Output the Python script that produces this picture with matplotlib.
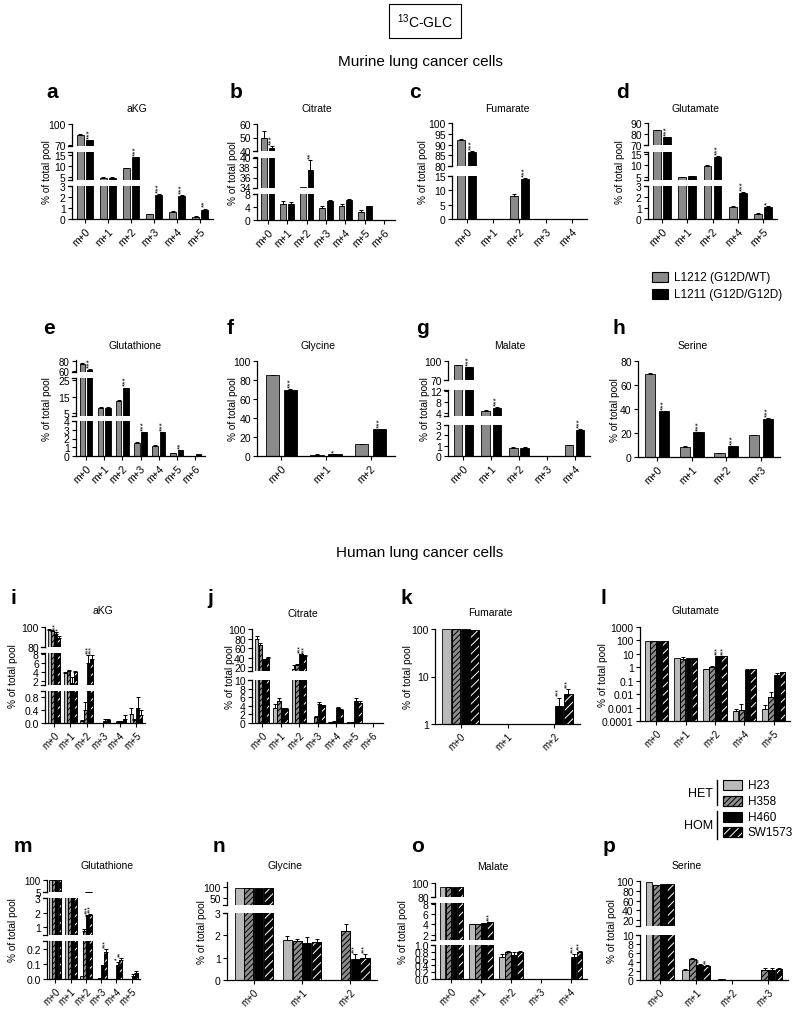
import numpy as np
import matplotlib
matplotlib.use("Agg")
import matplotlib.pyplot as plt
from matplotlib.patches import Rectangle

plt.rcParams['font.family'] = ['Liberation Sans', 'DejaVu Sans']
plt.rcParams['mathtext.fontset'] = 'custom'
plt.rcParams['mathtext.rm'] = 'Liberation Sans'
plt.rcParams['hatch.linewidth'] = 0.7
plt.rcParams['axes.linewidth'] = 0.9

# ---------------- murine data: [L1212 (G12D/WT), L1211 (G12D/G12D)] ----------------
murine_names = ['L1212 (G12D/WT)', 'L1211 (G12D/G12D)']

a_cats = ['m+0', 'm+1', 'm+2', 'm+3', 'm+4', 'm+5']
a_vals = [[85, 4.6, 9.0, 0.45, 0.65, 0.2],
          [77, 4.7, 14.0, 2.2, 2.1, 0.85]]
a_err = [[1, 0.2, 0.3, 0.05, 0.12, 0.03],
         [1, 0.2, 0.3, 0.1, 0.08, 0.1]]
a_star = [['', '', '', '', '', ''],
          ['***', '', '***', '***', '***', '**']]

b_cats = ['m+0', 'm+1', 'm+2', 'm+3', 'm+4', 'm+5', 'm+6']
b_vals = [[50, 4.8, 34.1, 3.6, 4.2, 2.6, 0.0],
          [42, 4.9, 37.5, 5.9, 6.2, 4.2, 0.15]]
b_err = [[5, 0.9, 0, 0.6, 0.7, 0.6, 0],
         [2, 0.6, 2, 0.2, 0.2, 0.2, 0]]
b_star = [['', '', '', '', '', '', ''],
          ['***', '', '**', '', '', '', '']]

c_cats = ['m+0', 'm+1', 'm+2', 'm+3', 'm+4']
c_vals = [[92, 0, 8.0, 0, 0],
          [86.5, 0, 13.8, 0, 0]]
c_err = [[0.6, 0, 0.8, 0, 0],
         [0.6, 0, 0.6, 0, 0]]
c_star = [['', '', '', '', ''],
          ['***', '', '***', '', '']]

d_cats = ['m+0', 'm+1', 'm+2', 'm+4', 'm+5']
d_vals = [[83.5, 4.9, 9.8, 1.1, 0.5],
          [77, 5.2, 13.8, 2.35, 1.1]]
d_err = [[0.5, 0.1, 0.3, 0.08, 0.05],
         [0.5, 0.1, 0.3, 0.1, 0.05]]
d_star = [['', '', '', '', ''],
          ['***', '', '***', '***', '*']]

e_cats = ['m+0', 'm+1', 'm+2', 'm+3', 'm+4', 'm+5', 'm+6']
e_vals = [[75, 8.5, 12.5, 1.5, 1.2, 0.35, 0.05],
          [63, 8.5, 20.0, 2.7, 2.7, 0.7, 0.2]]
e_err = [[1, 0.2, 0.3, 0.05, 0.05, 0.03, 0],
         [1, 0.2, 0.3, 0.05, 0.05, 0.03, 0]]
e_star = [['', '', '', '', '', '', ''],
          ['***', '', '***', '***', '***', '**', '']]

f_cats = ['m+0', 'm+1', 'm+2']
f_vals = [[85, 1.5, 12.5],
          [70, 2.0, 28.0]]
f_err = [[0.5, 0.2, 0.5],
         [0.5, 0.2, 0.5]]
f_star = [['', '', ''],
          ['***', '*', '***']]

g_cats = ['m+0', 'm+1', 'm+2', 'm+3', 'm+4']
g_vals = [[93, 4.8, 0.8, 0, 1.05],
          [90, 6.0, 0.8, 0, 2.55]]
g_err = [[0.5, 0.2, 0.03, 0, 0.05],
         [0.5, 0.2, 0.03, 0, 0.1]]
g_star = [['', '', '', '', ''],
          ['***', '***', '', '', '***']]

h_cats = ['m+0', 'm+1', 'm+2', 'm+3']
h_vals = [[69, 8.5, 3.0, 18],
          [38, 20.5, 9.0, 32]]
h_err = [[0.6, 0.5, 0.3, 0.5],
         [0.6, 0.5, 0.3, 0.5]]
h_star = [['', '', '', ''],
          ['***', '***', '***', '***']]

# ---------------- human data: [H23, H358, H460, SW1573] ----------------
human_names = ['H23', 'H358', 'H460', 'SW1573']

i_cats = ['m+0', 'm+1', 'm+2', 'm+3', 'm+4', 'm+5']
i_vals = [[97, 3.6, 0.05, 0.0, 0.0, 0.28],
          [96, 4.1, 0.42, 0.0, 0.03, 0.08],
          [93, 1.5, 6.0, 0.07, 0.04, 0.47],
          [89, 4.0, 6.8, 0.1, 0.13, 0.24]]
i_err = [[1, 0.3, 0.03, 0, 0, 0.18],
         [1, 0.2, 0.25, 0, 0.02, 0.03],
         [2, 1.4, 1.8, 0.04, 0.03, 0.35],
         [2, 0.2, 1.0, 0.02, 0.12, 0.18]]
i_star = [['', '', '', '', '', ''],
          ['', '', '', '', '', ''],
          ['***', '**', '***', '', '', ''],
          ['***', '', '***', '', '', '']]

j_cats = ['m+0', 'm+1', 'm+2', 'm+3', 'm+4', 'm+5', 'm+6']
j_vals = [[78, 3.4, 16, 0.1, 0.25, 0.2, 0.05],
          [67, 5.2, 25, 1.3, 0.3, 0.2, 0.05],
          [35, 3.4, 47, 4.5, 3.4, 5.1, 0.1],
          [39, 3.2, 44, 4.1, 3.1, 4.6, 0.1]]
j_err = [[8, 1.1, 8, 0, 0.05, 0.05, 0],
         [3, 0.6, 2, 0.4, 0.05, 0.05, 0],
         [1, 0.2, 1, 0.3, 0.3, 0.6, 0],
         [3, 0.3, 1, 0.2, 0.2, 0.6, 0]]
j_star = [['', '', '', '', '', '', ''],
          ['', '', '', '', '', '', ''],
          ['', '', '***', '', '', '', ''],
          ['', '', '***', '', '', '', '']]

k_cats = ['m+0', 'm+1', 'm+2']
k_vals = [[99, 0, 0],
          [99, 0, 0],
          [98, 0, 2.4],
          [97, 0, 4.3]]
k_err = [[0, 0, 0],
         [0, 0, 0],
         [0, 0, 1.2],
         [0, 0, 1.1]]
k_star = [['', '', ''],
          ['', '', ''],
          ['', '', '***'],
          ['', '', '***']]

l_cats = ['m+0', 'm+1', 'm+2', 'm+4', 'm+5']
l_vals = [[95, 5.0, 0.75, 0.0006, 0.0008],
          [95, 4.0, 1.1, 0.0007, 0.006],
          [90, 5.0, 6.5, 0.6, 0.28],
          [90, 5.0, 7.0, 0.75, 0.42]]
l_err = [[0, 0, 0.05, 0.0002, 0.0008],
         [0, 2.0, 0.05, 0.001, 0.008],
         [0, 0, 0.3, 0.15, 0.1],
         [0, 0, 0.3, 0.05, 0.05]]
l_star = [['', '', '', '', ''],
          ['', '', '', '', ''],
          ['', '', '***', '', ''],
          ['', '', '***', '', '']]

m_cats = ['m+0', 'm+1', 'm+2', 'm+3', 'm+4', 'm+5']
m_vals = [[97, 5.3, 0.02, 0.003, 0.0, 0.0],
          [97, 5.3, 0.75, 0.005, 0.0, 0.0],
          [97, 5.3, 1.8, 0.09, 0.09, 0.022],
          [97, 5.3, 1.85, 0.18, 0.125, 0.04]]
m_err = [[0, 0, 0, 0, 0, 0],
         [0, 0, 0.1, 0, 0, 0],
         [0, 0, 0.05, 0.005, 0.025, 0.01],
         [0, 0, 0.05, 0.02, 0.01, 0.01]]
m_star = [['', '', '', '', '', ''],
          ['', '', '', '', '', ''],
          ['', '', '***', '', '*', ''],
          ['', '', '***', '***', '**', '']]

n_cats = ['m+0', 'm+1', 'm+2']
n_vals = [[98, 1.8, 0.01],
          [96, 1.75, 2.2],
          [97, 1.65, 0.92],
          [97, 1.68, 1.0]]
n_err = [[0, 0.15, 0],
         [0, 0.1, 0.3],
         [0, 0.28, 0.25],
         [0, 0.15, 0.18]]
n_star = [['', '', ''],
          ['', '', ''],
          ['', '', '***'],
          ['', '', '***']]

o_cats = ['m+0', 'm+1', 'm+2', 'm+3', 'm+4']
o_vals = [[95, 4.1, 0.65, 0, 0.01],
          [95, 4.1, 0.8, 0, 0],
          [94, 4.2, 0.72, 0, 0.65],
          [94, 4.4, 0.79, 0, 0.78]]
o_err = [[0, 0.05, 0.1, 0, 0],
         [0, 0.05, 0.03, 0, 0],
         [0, 0.05, 0.08, 0, 0.08],
         [0, 0.1, 0.02, 0, 0.05]]
o_star = [['', '', '', '', ''],
          ['', '', '', '', ''],
          ['', '', '', '', '***'],
          ['', '***', '', '', '***']]

p_cats = ['m+0', 'm+1', 'm+2', 'm+3']
p_vals = [[98, 2.3, 0.15, 0.0],
          [92, 4.7, 0.05, 2.2],
          [94, 3.4, 0.0, 2.3],
          [94, 3.1, 0.0, 2.4]]
p_err = [[0, 0.2, 0.05, 0],
         [0, 0.3, 0, 0.4],
         [0, 0.2, 0, 0.4],
         [0, 0.2, 0, 0.2]]
p_star = [['', '', '', ''],
          ['', '', '', ''],
          ['', '**', '', ''],
          ['', '**', '', '']]

# ---------------- styles ----------------
MUR = [dict(fc='#8a8a8a'), dict(fc='black')]
HUM = [dict(fc='#b9b9b9'),
       dict(fc='#8c8c8c', hatch='//////', hc='black'),
       dict(fc='black'),
       dict(fc='black', hatch='////', hc='white')]

W, H = 800, 1012
fig = plt.figure(figsize=(8, 10.12), dpi=100)
TICK_FS = 7.5


def fx(x):
    return x / W


def fy(y):
    return 1 - y / H


def draw_bars(ax, xs, v, e, st, width):
    ax.bar(xs, v, width, color=st['fc'], edgecolor='black', linewidth=0.6, zorder=2)
    if 'hatch' in st:
        ax.bar(xs, v, width, color='none', edgecolor=st['hc'], hatch=st['hatch'],
               linewidth=0, zorder=3)
        ax.bar(xs, v, width, color='none', edgecolor='black', linewidth=0.6, zorder=4)
    ok = (e > 0) & np.isfinite(v)
    if ok.any():
        ax.errorbar(xs[ok], v[ok], yerr=[np.zeros(ok.sum()), e[ok]], fmt='none',
                    ecolor='black', elinewidth=0.7, capsize=1.6, capthick=0.7, zorder=5)


def panel(letter, title, box, cats, vals, errs, stars, styles, segs,
          lab, tit, ydx, log=False):
    left, top, right, bottom = box
    ncat = len(cats)
    nser = len(vals)
    if nser == 2:
        width, offs = 0.3, [-0.2, 0.2]
        xfs, sfs = TICK_FS, 6
    else:
        width, offs = 0.19, [-0.3, -0.1, 0.1, 0.3]
        xfs, sfs = 7, 5

    nseg = len(segs)
    used = sum(s[3] for s in segs)
    gap = ((bottom - top) - used) / (nseg - 1) if nseg > 1 else 0
    axes = []
    ybot = bottom
    for k, (lo, hi, ticks, px) in enumerate(segs):
        ax = fig.add_axes([fx(left), fy(ybot), (right - left) / W, px / H])
        ybot -= px + gap
        if log:
            ax.set_yscale('log')
        for s in range(nser):
            v = np.asarray(vals[s], float)
            e = np.asarray(errs[s], float)
            if log:
                v = np.where(v > 0, v, np.nan)
            draw_bars(ax, np.arange(ncat) + offs[s], v, e, styles[s], width)
        ax.set_xlim(-0.55, ncat - 0.45)
        ax.set_ylim(lo, hi)
        if log:
            labels = ['%g' % t for t in ticks]
            ax.minorticks_off()
        elif all(float(t).is_integer() for t in ticks):
            labels = ['%d' % t for t in ticks]
        else:
            labels = ['%.1f' % t for t in ticks]
        ax.set_yticks(ticks, labels)
        ax.tick_params(axis='y', labelsize=TICK_FS if px > 12 else 7, length=3,
                       width=0.8, pad=1.5)
        ax.spines['top'].set_visible(False)
        ax.spines['right'].set_visible(False)
        if k == 0:
            ax.set_xticks(range(ncat), cats, rotation=45, ha='right',
                          rotation_mode='anchor')
            ax.tick_params(axis='x', labelsize=xfs, length=3, width=0.8, pad=2)
        else:
            ax.spines['bottom'].set_visible(False)
            ax.set_xticks([])
        cap = 4.0 / (right - left)
        if nseg > 1:
            if k > 0:
                ax.plot([-cap, 0], [0, 0], transform=ax.transAxes, color='black',
                        lw=0.9, clip_on=False)
            if k < nseg - 1:
                ax.plot([-cap, 0], [1, 1], transform=ax.transAxes, color='black',
                        lw=0.9, clip_on=False)
        axes.append(ax)

    # significance stars
    for s in range(nser):
        for c in range(ncat):
            txt = stars[s][c]
            if not txt:
                continue
            topv = vals[s][c] + errs[s][c]
            target, yv = axes[-1], segs[-1][1]
            for ax, (lo, hi, ticks, px) in zip(axes, segs):
                if topv <= hi:
                    target, yv = ax, max(topv, lo)
                    break
            target.annotate(txt, (c + offs[s], yv), xytext=(0, 1.5),
                            textcoords='offset points', rotation=90, ha='center',
                            va='bottom', fontsize=sfs, annotation_clip=False)

    fig.text(fx(lab[0]), fy(lab[1]), letter, fontsize=15, fontweight='bold',
             ha='left', va='center')
    fig.text(fx(tit[0]), fy(tit[1]), title, fontsize=7.5, ha='center', va='center')
    fig.text(fx(left - ydx), fy((top + bottom) / 2), '% of total pool',
             rotation=90, fontsize=7.3, ha='center', va='center')


# ---------------- murine panels ----------------
panel('a', 'aKG', (72, 125, 213, 220), a_cats, a_vals, a_err, a_star, MUR,
      [(0, 3, [0, 1, 2, 3], 33), (3.6, 16.4, [5, 10, 15], 28), (69, 100, [70, 100], 22)],
      (46, 93), (137, 109), 25)
panel('b', 'Citrate', (257, 125, 395, 221), b_cats, b_vals, b_err, b_star, MUR,
      [(0, 8, [0, 4, 8], 26), (34, 40, [34, 36, 38, 40], 30), (40, 60, [40, 50, 60], 27)],
      (230, 93), (317, 109), 24)
panel('c', 'Fumarate', (452, 124, 587, 220), c_cats, c_vals, c_err, c_star, MUR,
      [(0, 15, [0, 5, 10, 15], 43), (80, 100, [80, 85, 90, 95, 100], 43)],
      (409, 93), (507, 109), 29)
panel('d', 'Glutamate', (648, 124, 777, 220), d_cats, d_vals, d_err, d_star, MUR,
      [(0, 3, [0, 1, 2, 3], 33), (3.7, 16.2, [5, 10, 15], 28), (70, 90, [70, 80, 90], 22)],
      (616, 93), (695, 109), 28)

panel('e', 'Glutathione', (76, 361, 205, 457), e_cats, e_vals, e_err, e_star, MUR,
      [(0, 4, [0, 1, 2, 3, 4], 35), (3.8, 26.2, [5, 15, 25], 38), (58, 82, [60, 80], 12)],
      (43, 329), (135, 346), 29)
panel('f', 'Glycine', (257, 362, 395, 457), f_cats, f_vals, f_err, f_star, MUR,
      [(0, 100, [0, 20, 40, 60, 80, 100], 95)],
      (227, 329), (318, 346), 24)
panel('g', 'Malate', (448, 362, 590, 457), g_cats, g_vals, g_err, g_star, MUR,
      [(0, 3, [0, 1, 2, 3], 31), (3.2, 12.5, [4, 8, 12], 26), (70, 100, [70, 100], 19)],
      (416, 329), (510, 346), 23)
panel('h', 'Serine', (638, 362, 780, 458), h_cats, h_vals, h_err, h_star, MUR,
      [(0, 80, [0, 20, 40, 60, 80], 96)],
      (612, 329), (693, 346), 23)

# ---------------- human panels ----------------
panel('i', 'aKG', (45, 628, 145, 724), i_cats, i_vals, i_err, i_star, HUM,
      [(0, 1, [0, 0.4, 0.8], 32), (1, 8.2, [2, 4, 6, 8], 32), (80, 100, [80, 100], 20)],
      (11, 598), (103, 611), 32)
panel('j', 'Citrate', (252, 630, 383, 724), j_cats, j_vals, j_err, j_star, HUM,
      [(0, 10, [0, 2, 4, 6, 8, 10], 43), (11.6, 100, [20, 40, 60, 80, 100], 42)],
      (207, 598), (303, 614), 22)
panel('k', 'Fumarate', (435, 630, 580, 725), k_cats, k_vals, k_err, k_star, HUM,
      [(1, 100, [1, 10, 100], 95)],
      (400, 598), (490, 613), 27, log=True)
panel('l', 'Glutamate', (640, 628, 790, 722), l_cats, l_vals, l_err, l_star, HUM,
      [(1e-4, 1e3, [1e-4, 1e-3, 1e-2, 1e-1, 1, 10, 100, 1000], 94)],
      (600, 598), (695, 611), 37, log=True)

panel('m', 'Glutathione', (47, 881, 140, 980), m_cats, m_vals, m_err, m_star, HUM,
      [(0, 0.25, [0, 0.1, 0.2], 38), (0.47, 3, [1, 2, 3], 37), (5, 100, [5, 100], 12)],
      (14, 847), (107, 866), 34)
panel('n', 'Glycine', (227, 883, 377, 981), n_cats, n_vals, n_err, n_star, HUM,
      [(0, 3, [0, 1, 2, 3], 67), (15, 125, [50, 100], 23)],
      (213, 847), (285, 866), 25)
panel('o', 'Malate', (435, 884, 587, 980), o_cats, o_vals, o_err, o_star, HUM,
      [(0, 1, [0, 0.2, 0.4, 0.6, 0.8, 1.0], 34), (1.05, 8.3, [2, 4, 6, 8], 37),
       (80, 100, [80, 100], 14)],
      (411, 847), (493, 867), 32)
panel('p', 'Serine', (640, 882, 788, 981), p_cats, p_vals, p_err, p_star, HUM,
      [(0, 10, [0, 2, 4, 6, 8, 10], 45), (8, 100, [20, 40, 60, 80, 100], 45)],
      (603, 847), (687, 866), 28)

# ---------------- headers ----------------
fig.text(fx(425), fy(22), r'$^{13}$C-GLC', fontsize=10, ha='center', va='center',
         bbox=dict(boxstyle='square,pad=0.55', fc='white', ec='black', lw=0.8))
fig.text(fx(420), fy(62), 'Murine lung cancer cells', fontsize=11, ha='center', va='center')
fig.text(fx(420), fy(553), 'Human lung cancer cells', fontsize=11, ha='center', va='center')

# ---------------- legends ----------------
def box_patch(x, y, w, h, st):
    fig.add_artist(Rectangle((fx(x), fy(y + h)), w / W, h / H, transform=fig.transFigure,
                             fc=st['fc'], ec='black', lw=0.8))
    if 'hatch' in st:
        fig.add_artist(Rectangle((fx(x), fy(y + h)), w / W, h / H,
                                 transform=fig.transFigure, fc='none', ec=st['hc'],
                                 hatch=st['hatch'], lw=0))
        fig.add_artist(Rectangle((fx(x), fy(y + h)), w / W, h / H,
                                 transform=fig.transFigure, fc='none', ec='black', lw=0.8))


for yy, st, name in zip([278, 295], MUR, murine_names):
    box_patch(652, yy - 5, 16, 10, st)
    fig.text(fx(674), fy(yy), name, fontsize=8.5, ha='left', va='center')

for yy, st, name in zip([786, 802, 818, 833], HUM, human_names):
    box_patch(723, yy - 5, 19, 10, st)
    fig.text(fx(748), fy(yy), name, fontsize=8.5, ha='left', va='center')
fig.text(fx(713), fy(794), 'HET', fontsize=9, ha='right', va='center')
fig.text(fx(713), fy(826), 'HOM', fontsize=9, ha='right', va='center')
fig.add_artist(plt.Line2D([fx(717), fx(717)], [fy(781), fy(806)], color='black', lw=1))
fig.add_artist(plt.Line2D([fx(717), fx(717)], [fy(812), fy(840)], color='black', lw=1))

fig.savefig('out.png', dpi=100)
